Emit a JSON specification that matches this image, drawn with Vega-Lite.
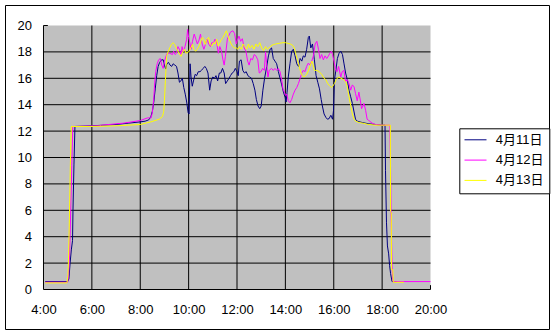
{
"$schema":"https://vega.github.io/schema/vega-lite/v6.json",
"width":544,"height":324,
"autosize":{"type":"none"},
"padding":{"left":5,"top":5,"right":7,"bottom":6},
"background":"white",
"config":{"view":{"stroke":"black","strokeWidth":1},"font":"Liberation Sans",
 "axis":{"domain":false,"ticks":false,"grid":false,"labelFontSize":13,"labelFont":"Liberation Sans","labelColor":"black","labelFlush":false,"labelOverlap":false,"zindex":1}},
"datasets":{
"vgrid":[{"g":4},{"g":6},{"g":8},{"g":10},{"g":12},{"g":14},{"g":16},{"g":18}],
"hgrid":[{"g":0},{"g":2},{"g":4},{"g":6},{"g":8},{"g":10},{"g":12},{"g":14},{"g":16},{"g":18}],
"series":[
{"t":4.07,"v":0.6,"s":"4月11日"},{"t":5.0,"v":0.6,"s":"4月11日"},{"t":5.05,"v":0.8,"s":"4月11日"},{"t":5.1,"v":2.0,"s":"4月11日"},{"t":5.15,"v":3.0,"s":"4月11日"},{"t":5.2,"v":3.7,"s":"4月11日"},{"t":5.22,"v":6.1,"s":"4月11日"},{"t":5.26,"v":9.5,"s":"4月11日"},{"t":5.3,"v":12.35,"s":"4月11日"},{"t":6.0,"v":12.4,"s":"4月11日"},{"t":6.5,"v":12.45,"s":"4月11日"},{"t":7.0,"v":12.5,"s":"4月11日"},{"t":7.5,"v":12.6,"s":"4月11日"},{"t":8.0,"v":12.7,"s":"4月11日"},{"t":8.2,"v":12.75,"s":"4月11日"},{"t":8.35,"v":12.85,"s":"4月11日"},{"t":8.44,"v":13.1,"s":"4月11日"},{"t":8.5,"v":13.5,"s":"4月11日"},{"t":8.56,"v":14.2,"s":"4月11日"},{"t":8.62,"v":15.2,"s":"4月11日"},{"t":8.68,"v":16.2,"s":"4月11日"},{"t":8.74,"v":16.9,"s":"4月11日"},{"t":8.8,"v":17.2,"s":"4月11日"},{"t":8.88,"v":17.4,"s":"4月11日"},{"t":8.95,"v":17.4,"s":"4月11日"},{"t":9.0,"v":17.0,"s":"4月11日"},{"t":9.05,"v":16.7,"s":"4月11日"},{"t":9.1,"v":17.1,"s":"4月11日"},{"t":9.17,"v":17.2,"s":"4月11日"},{"t":9.23,"v":17.0,"s":"4月11日"},{"t":9.3,"v":16.9,"s":"4月11日"},{"t":9.36,"v":17.1,"s":"4月11日"},{"t":9.43,"v":17.0,"s":"4月11日"},{"t":9.5,"v":16.9,"s":"4月11日"},{"t":9.56,"v":16.4,"s":"4月11日"},{"t":9.62,"v":15.7,"s":"4月11日"},{"t":9.68,"v":15.8,"s":"4月11日"},{"t":9.74,"v":16.0,"s":"4月11日"},{"t":9.8,"v":15.3,"s":"4月11日"},{"t":9.86,"v":14.8,"s":"4月11日"},{"t":9.92,"v":14.2,"s":"4月11日"},{"t":9.98,"v":13.4,"s":"4月11日"},{"t":10.02,"v":13.3,"s":"4月11日"},{"t":10.06,"v":17.1,"s":"4月11日"},{"t":10.1,"v":16.1,"s":"4月11日"},{"t":10.15,"v":15.4,"s":"4月11日"},{"t":10.2,"v":15.8,"s":"4月11日"},{"t":10.27,"v":16.3,"s":"4月11日"},{"t":10.33,"v":16.2,"s":"4月11日"},{"t":10.4,"v":16.5,"s":"4月11日"},{"t":10.47,"v":16.5,"s":"4月11日"},{"t":10.53,"v":16.6,"s":"4月11日"},{"t":10.6,"v":16.75,"s":"4月11日"},{"t":10.67,"v":16.9,"s":"4月11日"},{"t":10.73,"v":16.75,"s":"4月11日"},{"t":10.8,"v":16.4,"s":"4月11日"},{"t":10.87,"v":15.1,"s":"4月11日"},{"t":10.93,"v":15.8,"s":"4月11日"},{"t":11.0,"v":16.1,"s":"4月11日"},{"t":11.07,"v":16.0,"s":"4月11日"},{"t":11.13,"v":16.2,"s":"4月11日"},{"t":11.2,"v":15.8,"s":"4月11日"},{"t":11.27,"v":16.4,"s":"4月11日"},{"t":11.33,"v":16.4,"s":"4月11日"},{"t":11.4,"v":16.75,"s":"4月11日"},{"t":11.47,"v":16.4,"s":"4月11日"},{"t":11.53,"v":15.6,"s":"4月11日"},{"t":11.6,"v":15.8,"s":"4月11日"},{"t":11.67,"v":16.0,"s":"4月11日"},{"t":11.73,"v":16.2,"s":"4月11日"},{"t":11.8,"v":16.4,"s":"4月11日"},{"t":11.87,"v":16.5,"s":"4月11日"},{"t":11.93,"v":16.75,"s":"4月11日"},{"t":12.0,"v":16.5,"s":"4月11日"},{"t":12.05,"v":16.2,"s":"4月11日"},{"t":12.1,"v":17.3,"s":"4月11日"},{"t":12.17,"v":17.4,"s":"4月11日"},{"t":12.24,"v":16.6,"s":"4月11日"},{"t":12.31,"v":16.4,"s":"4月11日"},{"t":12.38,"v":16.5,"s":"4月11日"},{"t":12.45,"v":16.2,"s":"4月11日"},{"t":12.52,"v":16.1,"s":"4月11日"},{"t":12.6,"v":16.0,"s":"4月11日"},{"t":12.67,"v":15.6,"s":"4月11日"},{"t":12.74,"v":15.1,"s":"4月11日"},{"t":12.8,"v":14.4,"s":"4月11日"},{"t":12.87,"v":13.9,"s":"4月11日"},{"t":12.94,"v":13.7,"s":"4月11日"},{"t":13.0,"v":13.9,"s":"4月11日"},{"t":13.07,"v":15.1,"s":"4月11日"},{"t":13.14,"v":16.0,"s":"4月11日"},{"t":13.23,"v":16.9,"s":"4月11日"},{"t":13.3,"v":17.7,"s":"4月11日"},{"t":13.37,"v":18.2,"s":"4月11日"},{"t":13.43,"v":18.3,"s":"4月11日"},{"t":13.5,"v":17.5,"s":"4月11日"},{"t":13.57,"v":17.3,"s":"4月11日"},{"t":13.64,"v":17.1,"s":"4月11日"},{"t":13.71,"v":16.5,"s":"4月11日"},{"t":13.78,"v":16.0,"s":"4月11日"},{"t":13.85,"v":15.5,"s":"4月11日"},{"t":13.92,"v":14.95,"s":"4月11日"},{"t":13.99,"v":14.55,"s":"4月11日"},{"t":14.03,"v":14.2,"s":"4月11日"},{"t":14.07,"v":14.95,"s":"4月11日"},{"t":14.12,"v":16.1,"s":"4月11日"},{"t":14.19,"v":17.1,"s":"4月11日"},{"t":14.26,"v":18.05,"s":"4月11日"},{"t":14.33,"v":18.2,"s":"4月11日"},{"t":14.4,"v":17.7,"s":"4月11日"},{"t":14.47,"v":17.1,"s":"4月11日"},{"t":14.54,"v":16.9,"s":"4月11日"},{"t":14.61,"v":17.5,"s":"4月11日"},{"t":14.68,"v":17.3,"s":"4月11日"},{"t":14.74,"v":17.7,"s":"4月11日"},{"t":14.81,"v":17.6,"s":"4月11日"},{"t":14.88,"v":18.2,"s":"4月11日"},{"t":14.95,"v":19.1,"s":"4月11日"},{"t":14.99,"v":19.2,"s":"4月11日"},{"t":15.05,"v":18.3,"s":"4月11日"},{"t":15.12,"v":18.6,"s":"4月11日"},{"t":15.2,"v":17.4,"s":"4月11日"},{"t":15.27,"v":16.2,"s":"4月11日"},{"t":15.34,"v":15.7,"s":"4月11日"},{"t":15.41,"v":15.2,"s":"4月11日"},{"t":15.48,"v":14.4,"s":"4月11日"},{"t":15.53,"v":13.9,"s":"4月11日"},{"t":15.6,"v":13.3,"s":"4月11日"},{"t":15.67,"v":13.05,"s":"4月11日"},{"t":15.74,"v":12.9,"s":"4月11日"},{"t":15.81,"v":12.95,"s":"4月11日"},{"t":15.88,"v":13.2,"s":"4月11日"},{"t":15.95,"v":12.9,"s":"4月11日"},{"t":15.99,"v":13.55,"s":"4月11日"},{"t":16.03,"v":15.9,"s":"4月11日"},{"t":16.08,"v":16.5,"s":"4月11日"},{"t":16.15,"v":17.5,"s":"4月11日"},{"t":16.22,"v":17.9,"s":"4月11日"},{"t":16.29,"v":18.05,"s":"4月11日"},{"t":16.36,"v":17.8,"s":"4月11日"},{"t":16.42,"v":17.15,"s":"4月11日"},{"t":16.49,"v":16.4,"s":"4月11日"},{"t":16.56,"v":15.9,"s":"4月11日"},{"t":16.63,"v":15.1,"s":"4月11日"},{"t":16.7,"v":14.6,"s":"4月11日"},{"t":16.77,"v":14.1,"s":"4月11日"},{"t":16.84,"v":13.45,"s":"4月11日"},{"t":16.9,"v":12.9,"s":"4月11日"},{"t":16.97,"v":12.75,"s":"4月11日"},{"t":17.18,"v":12.65,"s":"4月11日"},{"t":17.45,"v":12.55,"s":"4月11日"},{"t":17.73,"v":12.5,"s":"4月11日"},{"t":18.0,"v":12.45,"s":"4月11日"},{"t":18.12,"v":12.45,"s":"4月11日"},{"t":18.14,"v":9.0,"s":"4月11日"},{"t":18.15,"v":8.0,"s":"4月11日"},{"t":18.18,"v":5.1,"s":"4月11日"},{"t":18.22,"v":3.3,"s":"4月11日"},{"t":18.27,"v":2.7,"s":"4月11日"},{"t":18.31,"v":1.8,"s":"4月11日"},{"t":18.35,"v":1.2,"s":"4月11日"},{"t":18.41,"v":0.6,"s":"4月11日"},{"t":18.6,"v":0.6,"s":"4月11日"},
{"t":4.07,"v":0.55,"s":"4月12日"},{"t":5.0,"v":0.55,"s":"4月12日"},{"t":5.04,"v":1.2,"s":"4月12日"},{"t":5.08,"v":2.6,"s":"4月12日"},{"t":5.1,"v":4.1,"s":"4月12日"},{"t":5.13,"v":6.4,"s":"4月12日"},{"t":5.17,"v":9.4,"s":"4月12日"},{"t":5.21,"v":12.35,"s":"4月12日"},{"t":6.3,"v":12.4,"s":"4月12日"},{"t":6.4,"v":12.45,"s":"4月12日"},{"t":7.3,"v":12.6,"s":"4月12日"},{"t":8.0,"v":12.8,"s":"4月12日"},{"t":8.3,"v":13.0,"s":"4月12日"},{"t":8.45,"v":13.0,"s":"4月12日"},{"t":8.5,"v":13.4,"s":"4月12日"},{"t":8.56,"v":14.5,"s":"4月12日"},{"t":8.6,"v":15.7,"s":"4月12日"},{"t":8.64,"v":16.5,"s":"4月12日"},{"t":8.7,"v":17.1,"s":"4月12日"},{"t":8.76,"v":17.4,"s":"4月12日"},{"t":8.83,"v":17.5,"s":"4月12日"},{"t":8.89,"v":17.0,"s":"4月12日"},{"t":8.95,"v":16.75,"s":"4月12日"},{"t":9.0,"v":17.3,"s":"4月12日"},{"t":9.07,"v":17.7,"s":"4月12日"},{"t":9.12,"v":17.9,"s":"4月12日"},{"t":9.22,"v":17.9,"s":"4月12日"},{"t":9.33,"v":17.8,"s":"4月12日"},{"t":9.38,"v":18.05,"s":"4月12日"},{"t":9.44,"v":17.8,"s":"4月12日"},{"t":9.5,"v":17.9,"s":"4月12日"},{"t":9.56,"v":18.4,"s":"4月12日"},{"t":9.62,"v":18.2,"s":"4月12日"},{"t":9.69,"v":17.8,"s":"4月12日"},{"t":9.73,"v":18.4,"s":"4月12日"},{"t":9.78,"v":18.0,"s":"4月12日"},{"t":9.85,"v":18.4,"s":"4月12日"},{"t":9.92,"v":18.96,"s":"4月12日"},{"t":9.96,"v":19.7,"s":"4月12日"},{"t":10.0,"v":19.1,"s":"4月12日"},{"t":10.05,"v":18.7,"s":"4月12日"},{"t":10.1,"v":18.2,"s":"4月12日"},{"t":10.16,"v":18.8,"s":"4月12日"},{"t":10.23,"v":19.35,"s":"4月12日"},{"t":10.3,"v":18.96,"s":"4月12日"},{"t":10.36,"v":18.6,"s":"4月12日"},{"t":10.43,"v":18.9,"s":"4月12日"},{"t":10.49,"v":19.35,"s":"4月12日"},{"t":10.56,"v":18.6,"s":"4月12日"},{"t":10.63,"v":18.2,"s":"4月12日"},{"t":10.7,"v":18.6,"s":"4月12日"},{"t":10.76,"v":18.96,"s":"4月12日"},{"t":10.83,"v":18.6,"s":"4月12日"},{"t":10.9,"v":18.4,"s":"4月12日"},{"t":10.96,"v":18.7,"s":"4月12日"},{"t":11.03,"v":18.7,"s":"4月12日"},{"t":11.09,"v":18.96,"s":"4月12日"},{"t":11.16,"v":18.7,"s":"4月12日"},{"t":11.23,"v":17.9,"s":"4月12日"},{"t":11.29,"v":18.4,"s":"4月12日"},{"t":11.36,"v":18.05,"s":"4月12日"},{"t":11.42,"v":17.4,"s":"4月12日"},{"t":11.47,"v":17.0,"s":"4月12日"},{"t":11.52,"v":17.66,"s":"4月12日"},{"t":11.6,"v":18.96,"s":"4月12日"},{"t":11.65,"v":19.2,"s":"4月12日"},{"t":11.73,"v":19.5,"s":"4月12日"},{"t":11.83,"v":19.6,"s":"4月12日"},{"t":11.9,"v":19.4,"s":"4月12日"},{"t":11.97,"v":18.6,"s":"4月12日"},{"t":12.02,"v":18.9,"s":"4月12日"},{"t":12.08,"v":19.2,"s":"4月12日"},{"t":12.15,"v":18.8,"s":"4月12日"},{"t":12.22,"v":19.0,"s":"4月12日"},{"t":12.3,"v":18.3,"s":"4月12日"},{"t":12.37,"v":18.05,"s":"4月12日"},{"t":12.44,"v":17.3,"s":"4月12日"},{"t":12.5,"v":17.0,"s":"4月12日"},{"t":12.57,"v":17.5,"s":"4月12日"},{"t":12.64,"v":17.4,"s":"4月12日"},{"t":12.71,"v":17.8,"s":"4月12日"},{"t":12.78,"v":17.7,"s":"4月12日"},{"t":12.86,"v":17.4,"s":"4月12日"},{"t":12.92,"v":16.4,"s":"4月12日"},{"t":12.99,"v":16.5,"s":"4月12日"},{"t":13.06,"v":16.75,"s":"4月12日"},{"t":13.13,"v":16.6,"s":"4月12日"},{"t":13.18,"v":18.0,"s":"4月12日"},{"t":13.22,"v":17.2,"s":"4月12日"},{"t":13.28,"v":16.1,"s":"4月12日"},{"t":13.33,"v":16.6,"s":"4月12日"},{"t":13.43,"v":16.75,"s":"4月12日"},{"t":13.5,"v":16.6,"s":"4月12日"},{"t":13.57,"v":16.75,"s":"4月12日"},{"t":13.64,"v":16.6,"s":"4月12日"},{"t":13.71,"v":16.75,"s":"4月12日"},{"t":13.78,"v":16.5,"s":"4月12日"},{"t":13.85,"v":15.85,"s":"4月12日"},{"t":13.9,"v":15.2,"s":"4月12日"},{"t":13.96,"v":14.95,"s":"4月12日"},{"t":14.01,"v":14.7,"s":"4月12日"},{"t":14.06,"v":14.8,"s":"4月12日"},{"t":14.12,"v":14.3,"s":"4月12日"},{"t":14.19,"v":14.15,"s":"4月12日"},{"t":14.26,"v":14.4,"s":"4月12日"},{"t":14.33,"v":14.8,"s":"4月12日"},{"t":14.4,"v":15.1,"s":"4月12日"},{"t":14.47,"v":15.3,"s":"4月12日"},{"t":14.54,"v":15.6,"s":"4月12日"},{"t":14.61,"v":16.0,"s":"4月12日"},{"t":14.68,"v":16.4,"s":"4月12日"},{"t":14.74,"v":16.6,"s":"4月12日"},{"t":14.81,"v":16.5,"s":"4月12日"},{"t":14.88,"v":16.9,"s":"4月12日"},{"t":14.95,"v":17.15,"s":"4月12日"},{"t":15.02,"v":17.0,"s":"4月12日"},{"t":15.09,"v":17.3,"s":"4月12日"},{"t":15.16,"v":17.7,"s":"4月12日"},{"t":15.23,"v":18.6,"s":"4月12日"},{"t":15.3,"v":18.8,"s":"4月12日"},{"t":15.37,"v":18.2,"s":"4月12日"},{"t":15.43,"v":17.5,"s":"4月12日"},{"t":15.5,"v":17.8,"s":"4月12日"},{"t":15.57,"v":17.4,"s":"4月12日"},{"t":15.64,"v":17.7,"s":"4月12日"},{"t":15.71,"v":17.5,"s":"4月12日"},{"t":15.78,"v":17.7,"s":"4月12日"},{"t":15.84,"v":17.9,"s":"4月12日"},{"t":15.9,"v":18.05,"s":"4月12日"},{"t":15.95,"v":17.8,"s":"4月12日"},{"t":16.01,"v":17.3,"s":"4月12日"},{"t":16.08,"v":16.6,"s":"4月12日"},{"t":16.14,"v":16.5,"s":"4月12日"},{"t":16.2,"v":16.9,"s":"4月12日"},{"t":16.29,"v":16.1,"s":"4月12日"},{"t":16.35,"v":16.5,"s":"4月12日"},{"t":16.42,"v":16.6,"s":"4月12日"},{"t":16.49,"v":15.75,"s":"4月12日"},{"t":16.56,"v":15.9,"s":"4月12日"},{"t":16.63,"v":15.6,"s":"4月12日"},{"t":16.7,"v":15.1,"s":"4月12日"},{"t":16.77,"v":15.5,"s":"4月12日"},{"t":16.84,"v":15.35,"s":"4月12日"},{"t":16.9,"v":14.85,"s":"4月12日"},{"t":16.97,"v":14.3,"s":"4月12日"},{"t":17.04,"v":14.95,"s":"4月12日"},{"t":17.11,"v":14.2,"s":"4月12日"},{"t":17.15,"v":13.7,"s":"4月12日"},{"t":17.18,"v":13.8,"s":"4月12日"},{"t":17.25,"v":14.1,"s":"4月12日"},{"t":17.32,"v":13.55,"s":"4月12日"},{"t":17.38,"v":12.9,"s":"4月12日"},{"t":17.45,"v":12.8,"s":"4月12日"},{"t":17.59,"v":12.6,"s":"4月12日"},{"t":17.73,"v":12.5,"s":"4月12日"},{"t":18.0,"v":12.45,"s":"4月12日"},{"t":18.32,"v":12.45,"s":"4月12日"},{"t":18.35,"v":9.0,"s":"4月12日"},{"t":18.37,"v":5.7,"s":"4月12日"},{"t":18.38,"v":5.0,"s":"4月12日"},{"t":18.4,"v":2.7,"s":"4月12日"},{"t":18.41,"v":1.8,"s":"4月12日"},{"t":18.43,"v":1.0,"s":"4月12日"},{"t":18.45,"v":0.6,"s":"4月12日"},{"t":20.0,"v":0.6,"s":"4月12日"},
{"t":4.07,"v":0.5,"s":"4月13日"},{"t":4.97,"v":0.5,"s":"4月13日"},{"t":5.01,"v":1.06,"s":"4月13日"},{"t":5.04,"v":2.6,"s":"4月13日"},{"t":5.07,"v":5.35,"s":"4月13日"},{"t":5.11,"v":9.4,"s":"4月13日"},{"t":5.15,"v":12.35,"s":"4月13日"},{"t":6.0,"v":12.35,"s":"4月13日"},{"t":7.0,"v":12.4,"s":"4月13日"},{"t":8.0,"v":12.5,"s":"4月13日"},{"t":8.44,"v":12.7,"s":"4月13日"},{"t":8.78,"v":12.9,"s":"4月13日"},{"t":8.92,"v":13.1,"s":"4月13日"},{"t":8.97,"v":13.5,"s":"4月13日"},{"t":9.0,"v":14.3,"s":"4月13日"},{"t":9.04,"v":15.85,"s":"4月13日"},{"t":9.09,"v":17.66,"s":"4月13日"},{"t":9.16,"v":18.05,"s":"4月13日"},{"t":9.22,"v":18.3,"s":"4月13日"},{"t":9.29,"v":18.57,"s":"4月13日"},{"t":9.36,"v":18.7,"s":"4月13日"},{"t":9.42,"v":18.57,"s":"4月13日"},{"t":9.49,"v":18.3,"s":"4月13日"},{"t":9.56,"v":18.05,"s":"4月13日"},{"t":9.63,"v":17.8,"s":"4月13日"},{"t":9.69,"v":17.66,"s":"4月13日"},{"t":9.76,"v":18.05,"s":"4月13日"},{"t":9.82,"v":18.2,"s":"4月13日"},{"t":9.89,"v":17.9,"s":"4月13日"},{"t":10.0,"v":18.0,"s":"4月13日"},{"t":10.09,"v":18.3,"s":"4月13日"},{"t":10.16,"v":18.57,"s":"4月13日"},{"t":10.22,"v":18.2,"s":"4月13日"},{"t":10.29,"v":18.05,"s":"4月13日"},{"t":10.36,"v":18.2,"s":"4月13日"},{"t":10.43,"v":18.44,"s":"4月13日"},{"t":10.49,"v":18.7,"s":"4月13日"},{"t":10.56,"v":19.1,"s":"4月13日"},{"t":10.62,"v":18.96,"s":"4月13日"},{"t":10.69,"v":18.57,"s":"4月13日"},{"t":10.76,"v":18.96,"s":"4月13日"},{"t":10.83,"v":19.1,"s":"4月13日"},{"t":10.89,"v":18.57,"s":"4月13日"},{"t":10.96,"v":18.44,"s":"4月13日"},{"t":11.03,"v":18.7,"s":"4月13日"},{"t":11.09,"v":18.6,"s":"4月13日"},{"t":11.16,"v":18.96,"s":"4月13日"},{"t":11.22,"v":18.44,"s":"4月13日"},{"t":11.29,"v":18.7,"s":"4月13日"},{"t":11.36,"v":18.96,"s":"4月13日"},{"t":11.42,"v":19.1,"s":"4月13日"},{"t":11.49,"v":19.35,"s":"4月13日"},{"t":11.56,"v":19.6,"s":"4月13日"},{"t":11.63,"v":19.2,"s":"4月13日"},{"t":11.69,"v":18.9,"s":"4月13日"},{"t":11.76,"v":18.6,"s":"4月13日"},{"t":11.83,"v":18.4,"s":"4月13日"},{"t":11.9,"v":18.3,"s":"4月13日"},{"t":11.97,"v":18.3,"s":"4月13日"},{"t":12.04,"v":18.2,"s":"4月13日"},{"t":12.1,"v":18.4,"s":"4月13日"},{"t":12.18,"v":18.2,"s":"4月13日"},{"t":12.25,"v":18.6,"s":"4月13日"},{"t":12.32,"v":18.4,"s":"4月13日"},{"t":12.4,"v":18.2,"s":"4月13日"},{"t":12.47,"v":18.6,"s":"4月13日"},{"t":12.54,"v":18.3,"s":"4月13日"},{"t":12.62,"v":18.5,"s":"4月13日"},{"t":12.7,"v":18.2,"s":"4月13日"},{"t":12.78,"v":18.6,"s":"4月13日"},{"t":12.86,"v":18.4,"s":"4月13日"},{"t":12.94,"v":18.7,"s":"4月13日"},{"t":13.02,"v":18.3,"s":"4月13日"},{"t":13.1,"v":18.1,"s":"4月13日"},{"t":13.18,"v":18.4,"s":"4月13日"},{"t":13.25,"v":18.2,"s":"4月13日"},{"t":13.32,"v":18.3,"s":"4月13日"},{"t":13.4,"v":18.45,"s":"4月13日"},{"t":13.5,"v":18.55,"s":"4月13日"},{"t":13.6,"v":18.6,"s":"4月13日"},{"t":13.75,"v":18.65,"s":"4月13日"},{"t":13.9,"v":18.7,"s":"4月13日"},{"t":14.0,"v":18.7,"s":"4月13日"},{"t":14.1,"v":18.65,"s":"4月13日"},{"t":14.2,"v":18.6,"s":"4月13日"},{"t":14.3,"v":18.5,"s":"4月13日"},{"t":14.37,"v":18.3,"s":"4月13日"},{"t":14.42,"v":17.9,"s":"4月13日"},{"t":14.5,"v":17.4,"s":"4月13日"},{"t":14.57,"v":16.9,"s":"4月13日"},{"t":14.63,"v":16.5,"s":"4月13日"},{"t":14.7,"v":16.2,"s":"4月13日"},{"t":14.77,"v":16.1,"s":"4月13日"},{"t":14.84,"v":16.2,"s":"4月13日"},{"t":14.91,"v":16.4,"s":"4月13日"},{"t":14.98,"v":16.7,"s":"4月13日"},{"t":15.05,"v":17.1,"s":"4月13日"},{"t":15.1,"v":17.3,"s":"4月13日"},{"t":15.15,"v":17.0,"s":"4月13日"},{"t":15.2,"v":16.6,"s":"4月13日"},{"t":15.3,"v":16.6,"s":"4月13日"},{"t":15.4,"v":16.5,"s":"4月13日"},{"t":15.5,"v":16.3,"s":"4月13日"},{"t":15.6,"v":16.0,"s":"4月13日"},{"t":15.67,"v":15.9,"s":"4月13日"},{"t":15.75,"v":15.6,"s":"4月13日"},{"t":15.82,"v":15.45,"s":"4月13日"},{"t":15.9,"v":15.3,"s":"4月13日"},{"t":15.96,"v":15.4,"s":"4月13日"},{"t":16.03,"v":15.6,"s":"4月13日"},{"t":16.1,"v":15.9,"s":"4月13日"},{"t":16.2,"v":16.1,"s":"4月13日"},{"t":16.3,"v":16.0,"s":"4月13日"},{"t":16.4,"v":15.9,"s":"4月13日"},{"t":16.49,"v":15.75,"s":"4月13日"},{"t":16.56,"v":15.35,"s":"4月13日"},{"t":16.63,"v":14.6,"s":"4月13日"},{"t":16.7,"v":13.95,"s":"4月13日"},{"t":16.77,"v":13.3,"s":"4月13日"},{"t":16.84,"v":12.9,"s":"4月13日"},{"t":16.9,"v":12.75,"s":"4月13日"},{"t":17.05,"v":12.65,"s":"4月13日"},{"t":17.2,"v":12.6,"s":"4月13日"},{"t":17.45,"v":12.5,"s":"4月13日"},{"t":17.73,"v":12.45,"s":"4月13日"},{"t":18.34,"v":12.45,"s":"4月13日"},{"t":18.35,"v":5.9,"s":"4月13日"},{"t":18.38,"v":5.8,"s":"4月13日"},{"t":18.39,"v":1.5,"s":"4月13日"},{"t":18.44,"v":1.5,"s":"4月13日"},{"t":18.46,"v":0.55,"s":"4月13日"},{"t":18.9,"v":0.55,"s":"4月13日"}
]},
"encoding":{
  "x":{"type":"quantitative","scale":{"domain":[2.40827,24.89922],"nice":false,"zero":false},
       "axis":{"orient":"bottom","offset":-39.5,"values":[4,6,8,10,12,14,16,18,20],"labelExpr":"datum.value + ':00'","title":null,"labelPadding":14}},
  "y":{"type":"quantitative","scale":{"domain":[-2.99242,21.55303],"nice":false,"zero":false},
       "axis":{"orient":"left","offset":-38.5,"values":[0,2,4,6,8,10,12,14,16,18,20],"title":null,"labelPadding":12}}
},
"layer":[
{"data":{"values":[{}]},"mark":{"type":"rect","fill":"#C0C0C0"},
 "encoding":{"x":{"datum":4},"x2":{"datum":20},"y":{"datum":0},"y2":{"datum":20}}},
{"data":{"name":"vgrid"},"mark":{"type":"rule","color":"black","strokeWidth":1},
 "encoding":{"x":{"field":"g"},"y":{"datum":0},"y2":{"datum":20}}},
{"data":{"name":"hgrid"},"mark":{"type":"rule","color":"black","strokeWidth":1},
 "encoding":{"y":{"field":"g"},"x":{"datum":4},"x2":{"datum":20}}},
{"data":{"values":[{}]},"mark":{"type":"rule","color":"black","strokeWidth":1},
 "encoding":{"y":{"datum":20},"x":{"datum":4},"x2":{"datum":4.18}}},
{"data":{"values":[{}]},"mark":{"type":"rule","color":"black","strokeWidth":1},
 "encoding":{"x":{"datum":20},"y":{"datum":0},"y2":{"datum":0.33}}},
{"data":{"name":"series"},"mark":{"type":"line","strokeWidth":1,"clip":false},
 "encoding":{
  "x":{"field":"t"},
  "y":{"field":"v"},
  "color":{"field":"s","type":"nominal","scale":{"domain":["4月11日","4月12日","4月13日"],"range":["#000080","#FF00FF","#FFFF00"]},
       "legend":{"title":null,"orient":"none","legendX":454.3,"legendY":123.3,"direction":"vertical","strokeColor":"black","fillColor":"white","padding":5,"rowPadding":6.3,"symbolType":"M-2,0H2","symbolSize":121,"symbolStrokeWidth":1,"symbolOffset":4.7,"labelOffset":13.7,"labelFontSize":13,"labelFont":"Liberation Sans, Noto Sans CJK JP","labelColor":"black","labelLimit":0}}}}
]
}
